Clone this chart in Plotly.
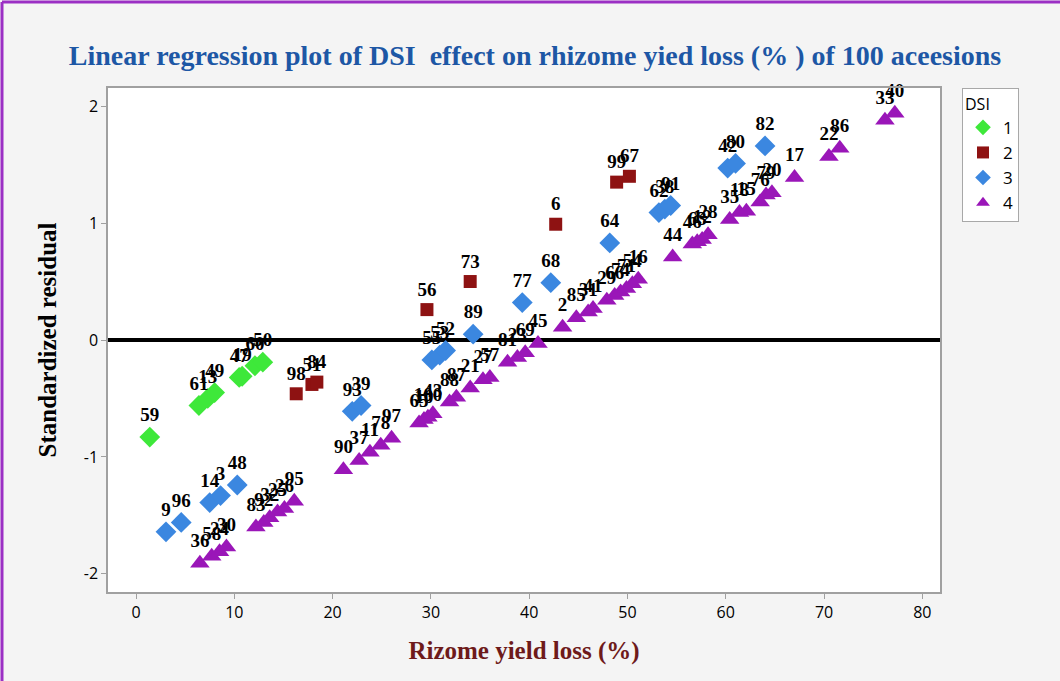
import plotly.graph_objects as go

# ---- data ----
dsi1_labels = ["59", "61", "13", "49", "47", "19", "60", "50"]
dsi1_x = [1.4, 6.4, 7.3, 8.0, 10.5, 10.8, 12.1, 12.9]
dsi1_y = [-0.83, -0.56, -0.50, -0.45, -0.32, -0.31, -0.22, -0.19]

dsi2_labels = ["98", "51", "84", "56", "73", "6", "99", "67"]
dsi2_x = [16.3, 17.9, 18.4, 29.6, 34.0, 42.7, 48.9, 50.2]
dsi2_y = [-0.46, -0.38, -0.36, 0.26, 0.50, 0.99, 1.35, 1.40]

dsi3_labels = ["9", "96", "14", "3", "48", "93", "39", "55", "53", "52",
               "89", "77", "68", "64", "62", "38", "91", "42", "80", "82"]
dsi3_x = [3.05, 4.6, 7.5, 8.6, 10.3, 22.0, 22.9, 30.1, 30.9, 31.5,
          34.3, 39.3, 42.2, 48.2, 53.2, 53.8, 54.4, 60.2, 61.0, 64.0]
dsi3_y = [-1.64, -1.56, -1.39, -1.33, -1.24, -0.61, -0.56, -0.17, -0.13, -0.09,
          0.05, 0.32, 0.49, 0.83, 1.09, 1.12, 1.15, 1.47, 1.51, 1.66]

dsi4_labels = ["36", "58", "24", "30", "83", "92", "32", "25", "26", "95",
               "90", "37", "11", "78", "97", "65", "10", "100", "43",
               "88", "87", "21", "27", "57", "81", "23", "69", "45",
               "2", "85", "31", "41", "29", "66", "74", "71", "54", "16",
               "44", "46", "63", "12", "28", "35", "18", "15", "76", "79", "20",
               "17", "22", "86", "33", "40"]
dsi4_x = [6.5, 7.7, 8.5, 9.2, 12.2, 13.0, 13.6, 14.4, 15.1, 16.1,
          21.1, 22.7, 23.8, 24.9, 26.0, 28.8, 29.3, 29.7, 30.2,
          31.9, 32.6, 34.0, 35.3, 36.0, 37.8, 38.8, 39.6, 40.9,
          43.4, 44.8, 46.0, 46.5, 47.9, 48.7, 49.3, 49.9, 50.5, 51.1,
          54.6, 56.6, 57.1, 57.6, 58.2, 60.4, 61.4, 62.1, 63.5, 64.1, 64.7,
          67.0, 70.5, 71.6, 76.2, 77.2]
dsi4_y = [-1.91, -1.85, -1.81, -1.77, -1.60, -1.56, -1.52, -1.47, -1.44, -1.38,
          -1.11, -1.03, -0.96, -0.90, -0.84, -0.71, -0.68, -0.66, -0.63,
          -0.53, -0.49, -0.41, -0.34, -0.32, -0.19, -0.15, -0.11, -0.03,
          0.11, 0.19, 0.24, 0.27, 0.34, 0.38, 0.41, 0.44, 0.48, 0.52,
          0.71, 0.82, 0.84, 0.86, 0.90, 1.03, 1.09, 1.10, 1.18, 1.24, 1.26,
          1.39, 1.57, 1.64, 1.88, 1.94]

x_ticks = [0, 10, 20, 30, 40, 50, 60, 70, 80]
y_ticks = [-2, -1, 0, 1, 2]
y_ticktext = ["-2", "-1", "0", "1", "2"]

groups = [
    ("1", dsi1_x, dsi1_y, dsi1_labels, "diamond", "#3ee83a", 16),
    ("2", dsi2_x, dsi2_y, dsi2_labels, "square", "#8e1212", 13),
    ("3", dsi3_x, dsi3_y, dsi3_labels, "diamond", "#3b87e0", 16),
    ("4", dsi4_x, dsi4_y, dsi4_labels, "triangle-up", "#9a16b8", 17),
]

fig = go.Figure()
for name, xs, ys, labs, sym, col, sz in groups:
    fig.add_trace(go.Scatter(
        x=xs, y=ys, text=labs, name=name,
        mode="markers+text", textposition="top center",
        textfont=dict(family="Liberation Serif", size=19, color="black", weight="bold"),
        marker=dict(symbol=sym, color=col, size=sz, line=dict(width=0)),
        cliponaxis=False,
    ))

L, R, T, B = 108, 940, 88, 592
W, H = 1060, 681
pw, ph = R - L, B - T

fig.update_layout(
    width=W, height=H,
    margin=dict(l=L, r=W - R, t=T, b=H - B),
    paper_bgcolor="#f4f4f4", plot_bgcolor="white",
    title=dict(
        text="Linear regression plot of DSI  effect on rhizome yied loss (% ) of 100 aceesions",
        x=535 / W, xanchor="center", y=1 - 55 / H, yanchor="middle",
        font=dict(family="Liberation Serif", size=28, color="#1d57a5", weight="bold"),
    ),
    legend=dict(
        title=dict(text="DSI", font=dict(family="Open Sans", size=16, color="black")),
        x=(962 - L) / pw, xanchor="left", y=1.0, yanchor="top",
        bgcolor="white", bordercolor="#a8a8a8", borderwidth=1,
        font=dict(family="Open Sans", size=17, color="black"),
        itemsizing="constant", tracegroupgap=4,
    ),
    showlegend=True,
)

fig.update_xaxes(
    range=[-2.85, 81.8], tickvals=x_ticks,
    showgrid=False, zeroline=False,
    showline=True, linecolor="#a0a0a0", linewidth=1.5, mirror=True,
    ticks="outside", ticklen=5, tickcolor="#a0a0a0",
    tickfont=dict(family="Open Sans", size=16, color="black"),
    title=dict(text="Rizome yield loss (%)", standoff=20,
               font=dict(family="Liberation Serif", size=25, color="#6e1a1a", weight="bold")),
)
fig.update_yaxes(
    range=[-2.155, 2.155], tickvals=y_ticks, ticktext=y_ticktext,
    showgrid=False, zeroline=True, zerolinecolor="black", zerolinewidth=4,
    showline=True, linecolor="#a0a0a0", linewidth=1.5, mirror=True,
    ticks="outside", ticklen=5, tickcolor="#a0a0a0",
    tickfont=dict(family="Open Sans", size=16, color="black"),
    title=dict(text="Standardized residual", standoff=20,
               font=dict(family="Liberation Serif", size=25, color="black", weight="bold")),
)

# purple frame (left and top edges of the figure)
frame = dict(color="#9b2fc4", width=3)
fig.add_shape(type="line", xref="paper", yref="paper",
              x0=(2 - L) / pw, x1=(2 - L) / pw, y0=(B - H - 2) / ph, y1=(B - 2) / ph,
              line=frame, layer="above")
fig.add_shape(type="line", xref="paper", yref="paper",
              x0=(2 - L) / pw, x1=(W + 2 - L) / pw, y0=(B - 2) / ph, y1=(B - 2) / ph,
              line=frame, layer="above")

fig.write_html("out.html")
